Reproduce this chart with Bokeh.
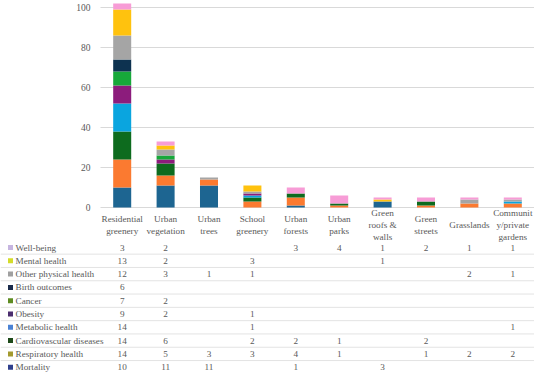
from bokeh.plotting import figure
from bokeh.models import (ColumnDataSource, Range1d, FixedTicker, Span, LinearAxis, Grid,
                          LabelSet)
from bokeh.embed import file_html
from bokeh.resources import INLINE
from bokeh.core.properties import value

# ---------------- data ----------------
categories = ["Residential greenery", "Urban vegetation", "Urban trees", "School greenery",
              "Urban forests", "Urban parks", "Green roofs & walls", "Green streets",
              "Grasslands", "Community/private gardens"]
header_labels = ["Residential\ngreenery", "Urban\nvegetation", "Urban\ntrees", "School\ngreenery",
                 "Urban\nforests", "Urban\nparks", "Green\nroofs &\nwalls", "Green\nstreets",
                 "Grasslands", "Communit\ny/private\ngardens"]

mortality      = [10, 11, 11, 0, 1, 0, 3, 0, 0, 0]
respiratory    = [14, 5, 3, 3, 4, 1, 0, 1, 2, 2]
cardiovascular = [14, 6, 0, 2, 2, 1, 0, 2, 0, 0]
metabolic      = [14, 0, 0, 1, 0, 0, 0, 0, 0, 1]
obesity        = [9, 2, 0, 1, 0, 0, 0, 0, 0, 0]
cancer         = [7, 2, 0, 0, 0, 0, 0, 0, 0, 0]
birth          = [6, 0, 0, 0, 0, 0, 0, 0, 0, 0]
other_physical = [12, 3, 1, 1, 0, 0, 0, 0, 2, 1]
mental         = [13, 2, 0, 3, 0, 0, 1, 0, 0, 0]
wellbeing      = [3, 2, 0, 0, 3, 4, 1, 2, 1, 1]

series_names = ["Mortality", "Respiratory health", "Cardiovascular diseases", "Metabolic health",
                "Obesity", "Cancer", "Birth outcomes", "Other physical health",
                "Mental health", "Well-being"]
series_values = [mortality, respiratory, cardiovascular, metabolic, obesity, cancer,
                 birth, other_physical, mental, wellbeing]
bar_colors = ["#1D6591", "#FB7A30", "#0D6B1E", "#0AA5DF", "#8C1C7C", "#17A83A",
              "#0D3250", "#A5A5A5", "#FFC20E", "#F79CD6"]
swatch_colors = ["#2F3F8C", "#A39A2E", "#1E4A1A", "#4A82D4", "#4B2D6E", "#5E8C22",
                 "#1A2A4A", "#A0A0A0", "#D4DC2A", "#C6B5E0"]
y_ticks = [0, 20, 40, 60, 80, 100]

# ---------------- layout constants (pixels) ----------------
W, H = 534, 373
CHART_LEFT = 100          # pixel where the chart area starts
Y0_PIX = 207              # pixel row of value 0
SCALE = 2.0               # pixels per value unit
N = len(categories)
px_per_cat = (W - CHART_LEFT) / N
x_left = -0.5 - CHART_LEFT / px_per_cat
FONT = "Liberation Serif"
TXT = "#595959"
FS = "9.2px"


def py(pix):
    """pixel row -> value units"""
    return (Y0_PIX - pix) / SCALE


def px(pix):
    """pixel column -> category units"""
    return x_left + pix / px_per_cat


x_pos = list(range(N))
keys = ["s%d" % i for i in range(len(series_names))]
data = {"x": x_pos}
for k, v in zip(keys, series_values):
    data[k] = v
src = ColumnDataSource(data)

p = figure(width=W, height=H, output_backend="svg", toolbar_location=None,
           x_range=Range1d(x_left, N - 0.5), y_range=Range1d(py(H), py(0)),
           x_axis_location=None, y_axis_location=None,
           min_border_left=0, min_border_right=0, min_border_top=0, min_border_bottom=0)
p.outline_line_color = None
p.xgrid.visible = False
p.ygrid.visible = False

# grid lines limited to the chart area
grid = Grid(dimension=1, ticker=FixedTicker(ticks=y_ticks), grid_line_color="#D9D9D9")
if "cross_bounds" in Grid.properties():
    grid.cross_bounds = (-0.5, N - 0.5)
    p.add_layout(grid, "center")
else:
    p.segment(x0=[-0.5] * len(y_ticks), x1=[N - 0.5] * len(y_ticks), y0=y_ticks, y1=y_ticks,
              line_color="#D9D9D9", line_width=1)

p.vbar_stack(keys, x="x", width=0.415, color=bar_colors, source=src, line_width=0)

yaxis = LinearAxis(fixed_location=-0.5, ticker=FixedTicker(ticks=y_ticks), bounds=(0, 100))
yaxis.axis_line_color = None
yaxis.major_tick_line_color = None
yaxis.minor_tick_line_color = None
yaxis.major_label_standoff = 4
yaxis.major_label_text_font = FONT
yaxis.major_label_text_font_size = "9.5px"
yaxis.major_label_text_color = TXT
p.add_layout(yaxis, "left")

# ---------------- data table ----------------
header_pix = 224
row0_pix = 247
row_h = 13.3

p.text(x=x_pos, y=[py(header_pix)] * N, text=header_labels, text_align="center",
       text_baseline="middle", text_font=value(FONT), text_font_size=FS,
       text_color=TXT, text_line_height=1.2)

table_order = list(range(len(series_names)))[::-1]   # Well-being first
lab_src = ColumnDataSource(dict(x=[], y=[], t=[]))
for r, si in enumerate(table_order):
    ry = py(row0_pix + r * row_h)
    vals = series_values[si]
    xs = [x for x, v in zip(x_pos, vals) if v]
    txts = [str(v) for v in vals if v]
    p.text(x=xs, y=[ry] * len(xs), text=txts, text_align="center", text_baseline="middle",
           text_font=value(FONT), text_font_size=FS, text_color=TXT)
    p.scatter(x=[px(10)], y=[ry], marker="square", size=5, color=swatch_colors[si], line_width=0)
    p.text(x=[px(15)], y=[ry], text=[series_names[si]], text_align="left",
           text_baseline="middle", text_font=value(FONT), text_font_size=FS, text_color=TXT)
    if r < len(series_names) - 1:
        p.add_layout(Span(location=py(row0_pix + r * row_h + row_h / 2), dimension="width",
                          line_color="#E3E3E3", line_width=1))

open("out.html", "w").write(file_html(p, INLINE))
